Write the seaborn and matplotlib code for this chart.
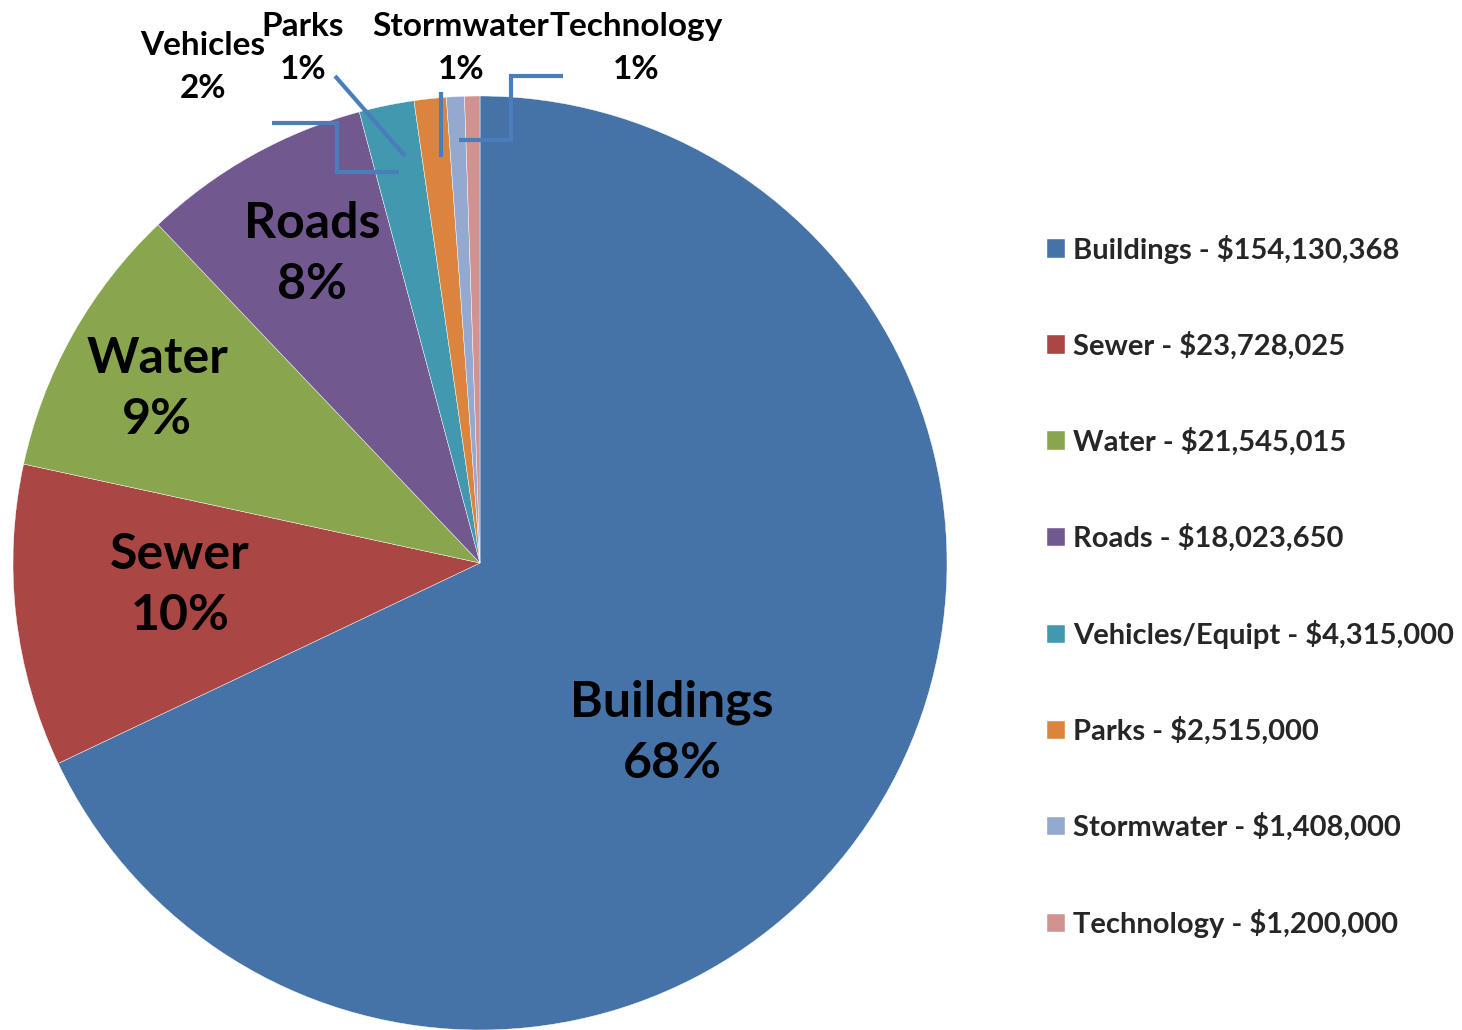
import matplotlib
matplotlib.use("Agg")
import matplotlib.pyplot as plt
import seaborn as sns
import numpy as np

# capital plan totals by category
categories = ["Buildings", "Sewer", "Water", "Roads", "Vehicles/Equipt",
              "Parks", "Stormwater", "Technology"]
amounts = [154130368, 23728025, 21545015, 18023650, 4315000,
           2515000, 1408000, 1200000]
slice_names = ["Buildings", "Sewer", "Water", "Roads", "Vehicles",
               "Parks", "Stormwater", "Technology"]

colors = ["#4572A7", "#AA4643", "#89A54E", "#71588F",
          "#4198AF", "#DB843D", "#93A9CF", "#D19392"]

sns.set_theme(style="white")
plt.rcParams["font.family"] = ["Lato", "DejaVu Sans"]

W, H = 1462, 1030
cx, cy, r = 480, 563, 467

fig = plt.figure(figsize=(W / 100, H / 100), dpi=100)
ax = fig.add_axes([(cx - r) / W, (H - cy - r) / H, 2 * r / W, 2 * r / H])

wedges, _ = ax.pie(amounts, colors=colors, startangle=90, counterclock=False,
                   radius=1, wedgeprops=dict(edgecolor="white", linewidth=0.3))
# pie() resets the limits, so set them afterwards
ax.set_xlim(-1, 1)
ax.set_ylim(-1, 1)
ax.set_aspect("equal")
ax.axis("off")

pcts = np.array(amounts) / sum(amounts) * 100


def px(x, y):
    # pixel position in the picture -> data coords of the pie axes
    return (x - cx) / r, (cy - y) / r


# label positions (pixel centres)
big_pos = {0: (672, 733), 1: (180, 585), 2: (157, 389), 3: (312, 254)}
small_pos = {4: (203, 67), 5: (303, 48), 6: (461, 48), 7: (636, 48)}

for i, (x, y) in big_pos.items():
    tx, ty = px(x, y)
    ax.text(tx, ty, f"{slice_names[i]}\n{pcts[i]:.0f}%", ha="center", va="center",
            fontsize=36, fontweight="bold", color="black", linespacing=1.44,
            clip_on=False)

for i, (x, y) in small_pos.items():
    tx, ty = px(x, y)
    ax.text(tx, ty, f"{slice_names[i]}\n{pcts[i]:.0f}%", ha="center", va="center",
            fontsize=24, fontweight="bold", color="black", linespacing=1.62,
            clip_on=False)

# leader lines
leaders = [
    [(272, 123), (337, 123), (337, 172), (399, 172)],
    [(335, 76), (405, 156)],
    [(441, 92), (441, 157)],
    [(563, 76), (511, 76), (511, 140), (459, 140)],
]
for pts in leaders:
    xy = np.array([px(x, y) for x, y in pts])
    ax.plot(xy[:, 0], xy[:, 1], color="#4A7EBB", linewidth=3,
            solid_capstyle="butt", solid_joinstyle="miter", clip_on=False)

legend_labels = [f"{c} - ${a:,}" for c, a in zip(categories, amounts)]
fig.legend(wedges, legend_labels, loc="center left",
           bbox_to_anchor=(1047 / W, 1 - 586.5 / H), frameon=False,
           prop=dict(family=["Lato", "DejaVu Sans"], weight="bold", size=21),
           handlelength=0.6, handleheight=0.6, handletextpad=0.3,
           labelspacing=2.33, borderpad=0, borderaxespad=0)

fig.savefig("out.png", dpi=100)
